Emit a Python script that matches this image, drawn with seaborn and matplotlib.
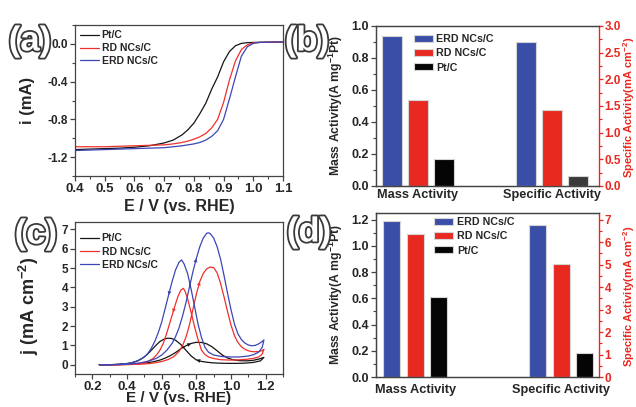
import numpy as np
import pandas as pd
import matplotlib
matplotlib.use("Agg")
import matplotlib.pyplot as plt
import matplotlib.patheffects as pe
from matplotlib.ticker import MultipleLocator
import seaborn as sns

# ---------------------------------------------------------
# DATA
# ---------------------------------------------------------
SAMPLES = ["Pt/C", "RD NCs/C", "ERD NCs/C"]
BAR_ORDER = ["ERD NCs/C", "RD NCs/C", "Pt/C"]
CATS = ["Mass Activity", "Specific Activity"]

LINE_COLORS = {"Pt/C": "#151515", "RD NCs/C": "#f0302a", "ERD NCs/C": "#3c46b4"}
BAR_COLORS = {"ERD NCs/C": "#3a4ea8", "RD NCs/C": "#e8291f", "Pt/C": "#050505"}
RED = "#e8291f"

# (a) ORR polarisation curves
E_lsv = [0.40, 0.45, 0.50, 0.55, 0.60, 0.65, 0.70, 0.73, 0.76, 0.78, 0.80, 0.82,
         0.84, 0.86, 0.88, 0.90, 0.92, 0.94, 0.96, 0.98, 1.00, 1.02, 1.05, 1.10]
i_pt = [-1.12, -1.115, -1.11, -1.105, -1.095, -1.08, -1.05, -1.02, -0.965, -0.91, -0.84, -0.74,
        -0.63, -0.48, -0.35, -0.19, -0.08, -0.02, 0.005, 0.013, 0.015, 0.017, 0.018, 0.02]
i_rd = [-1.09, -1.09, -1.09, -1.085, -1.08, -1.075, -1.07, -1.06, -1.045, -1.03, -1.01, -0.985,
        -0.95, -0.89, -0.80, -0.62, -0.38, -0.18, -0.06, -0.01, 0.01, 0.015, 0.018, 0.02]
i_erd = [-1.13, -1.125, -1.12, -1.115, -1.11, -1.105, -1.10, -1.09, -1.08, -1.07, -1.06, -1.045,
         -1.02, -0.98, -0.92, -0.80, -0.58, -0.35, -0.13, -0.03, 0.005, 0.015, 0.018, 0.02]

# (c) CV curves, forward scan then reverse scan
E_pt_f = [0.24, 0.30, 0.36, 0.42, 0.47, 0.51, 0.55, 0.59, 0.62, 0.65, 0.68, 0.71, 0.74, 0.77,
          0.80, 0.83, 0.86, 0.89, 0.92, 0.95, 0.98, 1.01, 1.05, 1.09, 1.13, 1.16, 1.19]
j_pt_f = [0.0, 0.0, 0.01, 0.02, 0.05, 0.09, 0.15, 0.24, 0.34, 0.47, 0.63, 0.82, 0.98, 1.10,
          1.16, 1.15, 1.08, 0.93, 0.72, 0.50, 0.35, 0.26, 0.21, 0.20, 0.23, 0.29, 0.38]
E_pt_r = [1.19, 1.17, 1.13, 1.08, 1.03, 0.98, 0.93, 0.89, 0.86, 0.83, 0.80, 0.77, 0.74, 0.71,
          0.68, 0.655, 0.635, 0.615, 0.59, 0.57, 0.55, 0.53, 0.51, 0.49, 0.46, 0.43, 0.40,
          0.35, 0.30, 0.24]
j_pt_r = [0.38, 0.20, 0.12, 0.08, 0.07, 0.07, 0.08, 0.10, 0.13, 0.17, 0.25, 0.45, 0.75, 1.05,
          1.27, 1.36, 1.37, 1.33, 1.20, 1.03, 0.84, 0.65, 0.48, 0.34, 0.20, 0.11, 0.06,
          0.02, 0.0, 0.0]

E_rd_f = [0.24, 0.30, 0.36, 0.42, 0.48, 0.53, 0.57, 0.61, 0.64, 0.67, 0.70, 0.72, 0.74, 0.76,
          0.78, 0.80, 0.82, 0.84, 0.86, 0.88, 0.90, 0.92, 0.94, 0.96, 0.98, 1.00, 1.02, 1.04,
          1.06, 1.08, 1.10, 1.12, 1.14, 1.16, 1.18, 1.19]
j_rd_f = [0.0, 0.0, 0.0, 0.01, 0.03, 0.06, 0.11, 0.19, 0.28, 0.42, 0.68, 0.98, 1.42, 2.05,
          2.85, 3.65, 4.30, 4.72, 4.96, 5.05, 5.02, 4.75, 4.20, 3.50, 2.75, 2.05, 1.50, 1.15,
          0.93, 0.80, 0.72, 0.68, 0.67, 0.68, 0.73, 0.80]
E_rd_r = [1.19, 1.18, 1.16, 1.13, 1.09, 1.04, 0.99, 0.94, 0.90, 0.87, 0.85, 0.83, 0.81, 0.79,
          0.77, 0.75, 0.735, 0.725, 0.71, 0.695, 0.68, 0.665, 0.65, 0.63, 0.61, 0.59, 0.57,
          0.55, 0.52, 0.48, 0.44, 0.40, 0.34, 0.24]
j_rd_r = [0.80, 0.55, 0.40, 0.33, 0.28, 0.25, 0.24, 0.26, 0.32, 0.40, 0.52, 0.75, 1.30, 1.95,
          2.70, 3.40, 3.80, 3.95, 3.85, 3.55, 3.15, 2.70, 2.25, 1.65, 1.12, 0.75, 0.50,
          0.32, 0.17, 0.08, 0.04, 0.02, 0.0, 0.0]

E_erd_f = [0.24, 0.30, 0.36, 0.42, 0.48, 0.53, 0.57, 0.60, 0.63, 0.66, 0.68, 0.70, 0.72, 0.74,
           0.76, 0.78, 0.80, 0.82, 0.84, 0.86, 0.87, 0.88, 0.90, 0.92, 0.94, 0.96, 0.98, 1.00,
           1.02, 1.04, 1.06, 1.08, 1.10, 1.12, 1.14, 1.16, 1.18, 1.19]
j_erd_f = [0.0, 0.0, 0.01, 0.04, 0.10, 0.20, 0.33, 0.50, 0.75, 1.10, 1.45, 1.90, 2.50, 3.20,
           4.00, 4.80, 5.50, 6.10, 6.55, 6.80, 6.82, 6.78, 6.55, 6.10, 5.45, 4.60, 3.70, 2.85,
           2.10, 1.60, 1.30, 1.12, 1.02, 0.98, 1.00, 1.08, 1.20, 1.28]
E_erd_r = [1.19, 1.18, 1.16, 1.13, 1.10, 1.05, 1.00, 0.95, 0.90, 0.87, 0.85, 0.83, 0.81, 0.79,
           0.77, 0.75, 0.73, 0.715, 0.70, 0.68, 0.66, 0.64, 0.62, 0.60, 0.58, 0.56, 0.54,
           0.52, 0.50, 0.47, 0.44, 0.40, 0.35, 0.30, 0.24]
j_erd_r = [1.28, 0.90, 0.65, 0.52, 0.45, 0.40, 0.40, 0.42, 0.50, 0.65, 0.90, 1.40, 2.10, 3.00,
           3.90, 4.70, 5.20, 5.42, 5.30, 4.90, 4.30, 3.60, 2.90, 2.20, 1.65, 1.20, 0.85,
           0.58, 0.40, 0.23, 0.13, 0.06, 0.02, 0.0, 0.0]

# arrows on the CV loops (potential where the arrow sits)
ARROWS = {"Pt/C": (0.74, 0.83), "RD NCs/C": (0.80, 0.68), "ERD NCs/C": (0.78, 0.66)}

# (b) and (d) activities, order ERD, RD, Pt
mass_b = [0.94, 0.54, 0.17]
spec_b = [2.70, 1.42, 0.19]
mass_d = [1.19, 1.09, 0.61]
spec_d = [6.75, 5.05, 1.08]

# ---------------------------------------------------------
# STYLE
# ---------------------------------------------------------
sns.set_style("ticks")
plt.rcParams["font.family"] = ["Liberation Sans", "DejaVu Sans"]
plt.rcParams["font.weight"] = "bold"
plt.rcParams["axes.labelweight"] = "bold"
plt.rcParams["mathtext.default"] = "regular"
plt.rcParams["axes.edgecolor"] = "#444444"
plt.rcParams["axes.linewidth"] = 0.9

fig = plt.figure(figsize=(6.36, 4.07), dpi=100)
W, H = 636, 407


def box(l, t, r, b):
    return [l / W, 1 - b / H, (r - l) / W, (b - t) / H]


ax_a = fig.add_axes(box(75, 25, 283, 176))
ax_b = fig.add_axes(box(376, 26, 599, 186))
ax_c = fig.add_axes(box(75, 222, 283, 374))
ax_d = fig.add_axes(box(376, 213, 599, 377))


def tick_style(ax, xsize=9, ysize=8.5):
    ax.tick_params(which="major", direction="out", length=3.5, width=0.9, color="#444444")
    ax.tick_params(which="minor", direction="out", length=2, width=0.8, color="#444444")
    ax.tick_params(axis="x", labelsize=xsize, pad=1.5)
    ax.tick_params(axis="y", labelsize=ysize, pad=1.5)
    for lab in ax.get_xticklabels() + ax.get_yticklabels():
        lab.set_fontweight("bold")


# ---------------------------------------------------------
# (a) LSV
# ---------------------------------------------------------
df_a = pd.DataFrame({
    "E": E_lsv * 3,
    "i": i_pt + i_rd + i_erd,
    "sample": ["Pt/C"] * len(E_lsv) + ["RD NCs/C"] * len(E_lsv) + ["ERD NCs/C"] * len(E_lsv),
})
sns.lineplot(data=df_a, x="E", y="i", hue="sample", hue_order=SAMPLES, palette=LINE_COLORS,
             estimator=None, sort=False, lw=0.9, ax=ax_a)
ax_a.set_xlim(0.4, 1.1)
ax_a.set_ylim(-1.4, 0.2)
ax_a.xaxis.set_minor_locator(MultipleLocator(0.05))
ax_a.yaxis.set_minor_locator(MultipleLocator(0.2))
ax_a.set_xticks([0.4, 0.5, 0.6, 0.7, 0.8, 0.9, 1.0, 1.1])
ax_a.set_xticklabels(["0.4", "0.5", "0.6", "0.7", "0.8", "0.9", "1.0", "1.1"])
ax_a.set_yticks([-1.2, -0.8, -0.4, 0.0])
ax_a.set_yticklabels(["-1.2", "-0.8", "-0.4", "0.0"])
tick_style(ax_a, 9.5, 8.5)
ax_a.set_xlabel("E / V (vs. RHE)", fontsize=11.5, fontweight="bold")
ax_a.set_ylabel("i (mA)", fontsize=12, fontweight="bold")
ax_a.xaxis.set_label_coords(0.5, -0.15)
ax_a.yaxis.set_label_coords(-0.19, 0.5)
ax_a.legend(loc="upper left", bbox_to_anchor=(0.025, 0.965), frameon=False,
            handlelength=1.8, handletextpad=0.25, labelspacing=0.28, borderaxespad=0, borderpad=0,
            prop={"weight": "bold", "size": 7.5})

# ---------------------------------------------------------
# (c) CV
# ---------------------------------------------------------
cv = {
    "Pt/C": (E_pt_f, j_pt_f, E_pt_r, j_pt_r),
    "RD NCs/C": (E_rd_f, j_rd_f, E_rd_r, j_rd_r),
    "ERD NCs/C": (E_erd_f, j_erd_f, E_erd_r, j_erd_r),
}
rows = []
for s in SAMPLES:
    ef, jf, er, jr = cv[s]
    for e, j in zip(ef + er, jf + jr):
        rows.append((s, e, j))
df_c = pd.DataFrame(rows, columns=["sample", "E", "j"])
sns.lineplot(data=df_c, x="E", y="j", hue="sample", hue_order=SAMPLES, palette=LINE_COLORS,
             estimator=None, sort=False, lw=0.9, ax=ax_c)

for s in SAMPLES:
    ef, jf, er, jr = cv[s]
    for (ee, jj), at in zip([(ef, jf), (er, jr)], ARROWS[s]):
        k = int(np.argmin(np.abs(np.array(ee) - at)))
        k = min(k, len(ee) - 2)
        ax_c.annotate("", xy=(ee[k + 1], jj[k + 1]), xytext=(ee[k], jj[k]),
                      arrowprops=dict(arrowstyle="-|>", color=LINE_COLORS[s], lw=0,
                                      mutation_scale=7, shrinkA=0, shrinkB=0))

ax_c.set_xlim(0.1, 1.3)
ax_c.set_ylim(-0.48, 7.38)
ax_c.set_xticks([0.2, 0.4, 0.6, 0.8, 1.0, 1.2])
ax_c.set_xticklabels(["0.2", "0.4", "0.6", "0.8", "1.0", "1.2"])
ax_c.xaxis.set_minor_locator(MultipleLocator(0.1))
ax_c.set_yticks(range(0, 8))
tick_style(ax_c, 9.5, 8.5)
ax_c.set_xlabel("E / V (vs. RHE)", fontsize=11, fontweight="bold")
ax_c.set_ylabel(r"j (mA cm$^{-2}$)", fontsize=13, fontweight="bold")
ax_c.xaxis.set_label_coords(0.5, -0.115)
ax_c.yaxis.set_label_coords(-0.165, 0.45)
ax_c.legend(loc="upper left", bbox_to_anchor=(0.025, 0.925), frameon=False,
            handlelength=1.8, handletextpad=0.25, labelspacing=0.32, borderaxespad=0, borderpad=0,
            prop={"weight": "bold", "size": 7.5})


# ---------------------------------------------------------
# (b) / (d) bars
# ---------------------------------------------------------
def bar_panel(ax, mass, spec, width, gap, xlim, ylim_l, ylim_r, lstep, rstep, leg_anchor,
              pt_spec_color, cat_pad):
    df_m = pd.DataFrame({"cat": CATS[0], "sample": BAR_ORDER, "val": mass})
    df_s = pd.DataFrame({"cat": CATS[1], "sample": BAR_ORDER, "val": spec})
    sns.barplot(data=df_m, x="cat", y="val", hue="sample", order=CATS, hue_order=BAR_ORDER,
                palette=BAR_COLORS, saturation=1, width=width, gap=gap, errorbar=None,
                edgecolor="#d5d5d5", linewidth=0.8, ax=ax)
    ax2 = ax.twinx()
    sns.barplot(data=df_s, x="cat", y="val", hue="sample", order=CATS, hue_order=BAR_ORDER,
                palette=BAR_COLORS, saturation=1, width=width, gap=gap, errorbar=None,
                edgecolor="#d5d5d5", linewidth=0.8, ax=ax2, legend=False)
    for bar in ax2.containers[2]:
        bar.set_facecolor(pt_spec_color)
    ax.set_xlim(*xlim)
    ax.set_ylim(*ylim_l)
    ax2.set_ylim(*ylim_r)
    ax.yaxis.set_major_locator(MultipleLocator(lstep))
    ax.yaxis.set_minor_locator(MultipleLocator(lstep / 2))
    ax2.yaxis.set_major_locator(MultipleLocator(rstep))
    ax2.yaxis.set_minor_locator(MultipleLocator(rstep / 2))
    ax.set_xlabel("")
    ax2.set_xlabel("")
    ax.tick_params(which="major", direction="out", length=3.5, width=0.9, color="#444444")
    ax.tick_params(which="minor", direction="out", length=2, width=0.8, color="#444444")
    ax.tick_params(axis="x", length=0, labelsize=9.2, pad=cat_pad)
    ax.tick_params(axis="y", labelsize=9, pad=1.5)
    ax2.tick_params(which="major", direction="out", length=3, width=0.9, color=RED,
                    labelcolor=RED, labelsize=8.5, pad=1)
    ax2.tick_params(which="minor", direction="out", length=2, width=0.8, color=RED)
    for lab in ax.get_xticklabels() + ax.get_yticklabels() + ax2.get_yticklabels():
        lab.set_fontweight("bold")
    ax2.spines["right"].set_color(RED)
    ax2.spines["right"].set_linewidth(1.0)
    ax.spines["right"].set_visible(False)
    ax.set_ylabel(r"Mass Activity(A mg$^{-1}$Pt)", fontsize=8.8, fontweight="bold")
    ax2.set_ylabel(r"Specific Activity(mA cm$^{-2}$)", fontsize=8.0, fontweight="bold", color=RED)
    ax.yaxis.set_label_coords(-0.14, 0.5)
    ax2.yaxis.set_label_coords(1.1, 0.49)
    handles, labels = ax.get_legend_handles_labels()
    ax.legend(handles, labels, loc="upper left", bbox_to_anchor=leg_anchor, frameon=False,
              handlelength=1.75, handleheight=0.65, handletextpad=0.35, labelspacing=0.4,
              borderaxespad=0, borderpad=0, prop={"weight": "bold", "size": 7.7})
    return ax2


bar_panel(ax_b, mass_b, spec_b, 0.582, 0.23, (-0.31, 1.35), (0, 1.0), (0, 3.0), 0.2, 0.5,
          (0.17, 0.95), "#3a3a3a", 2)
bar_panel(ax_d, mass_d, spec_d, 0.483, 0.28, (-0.27, 1.26), (0, 1.25), (0, 7.3), 0.2, 1,
          (0.262, 0.975), "#050505", 5)

# ---------------------------------------------------------
# PANEL LETTERS
# ---------------------------------------------------------
outline = [pe.withStroke(linewidth=2.6, foreground="#3a3a3a")]
for txt, x, y in [("(a)", 30, 41), ("(b)", 307, 41), ("(c)", 36, 234), ("(d)", 309, 232)]:
    fig.text(x / W, 1 - y / H, txt, fontsize=25, fontweight="bold", color="white",
             ha="center", va="center", path_effects=outline)

fig.savefig("out.png", dpi=100)
